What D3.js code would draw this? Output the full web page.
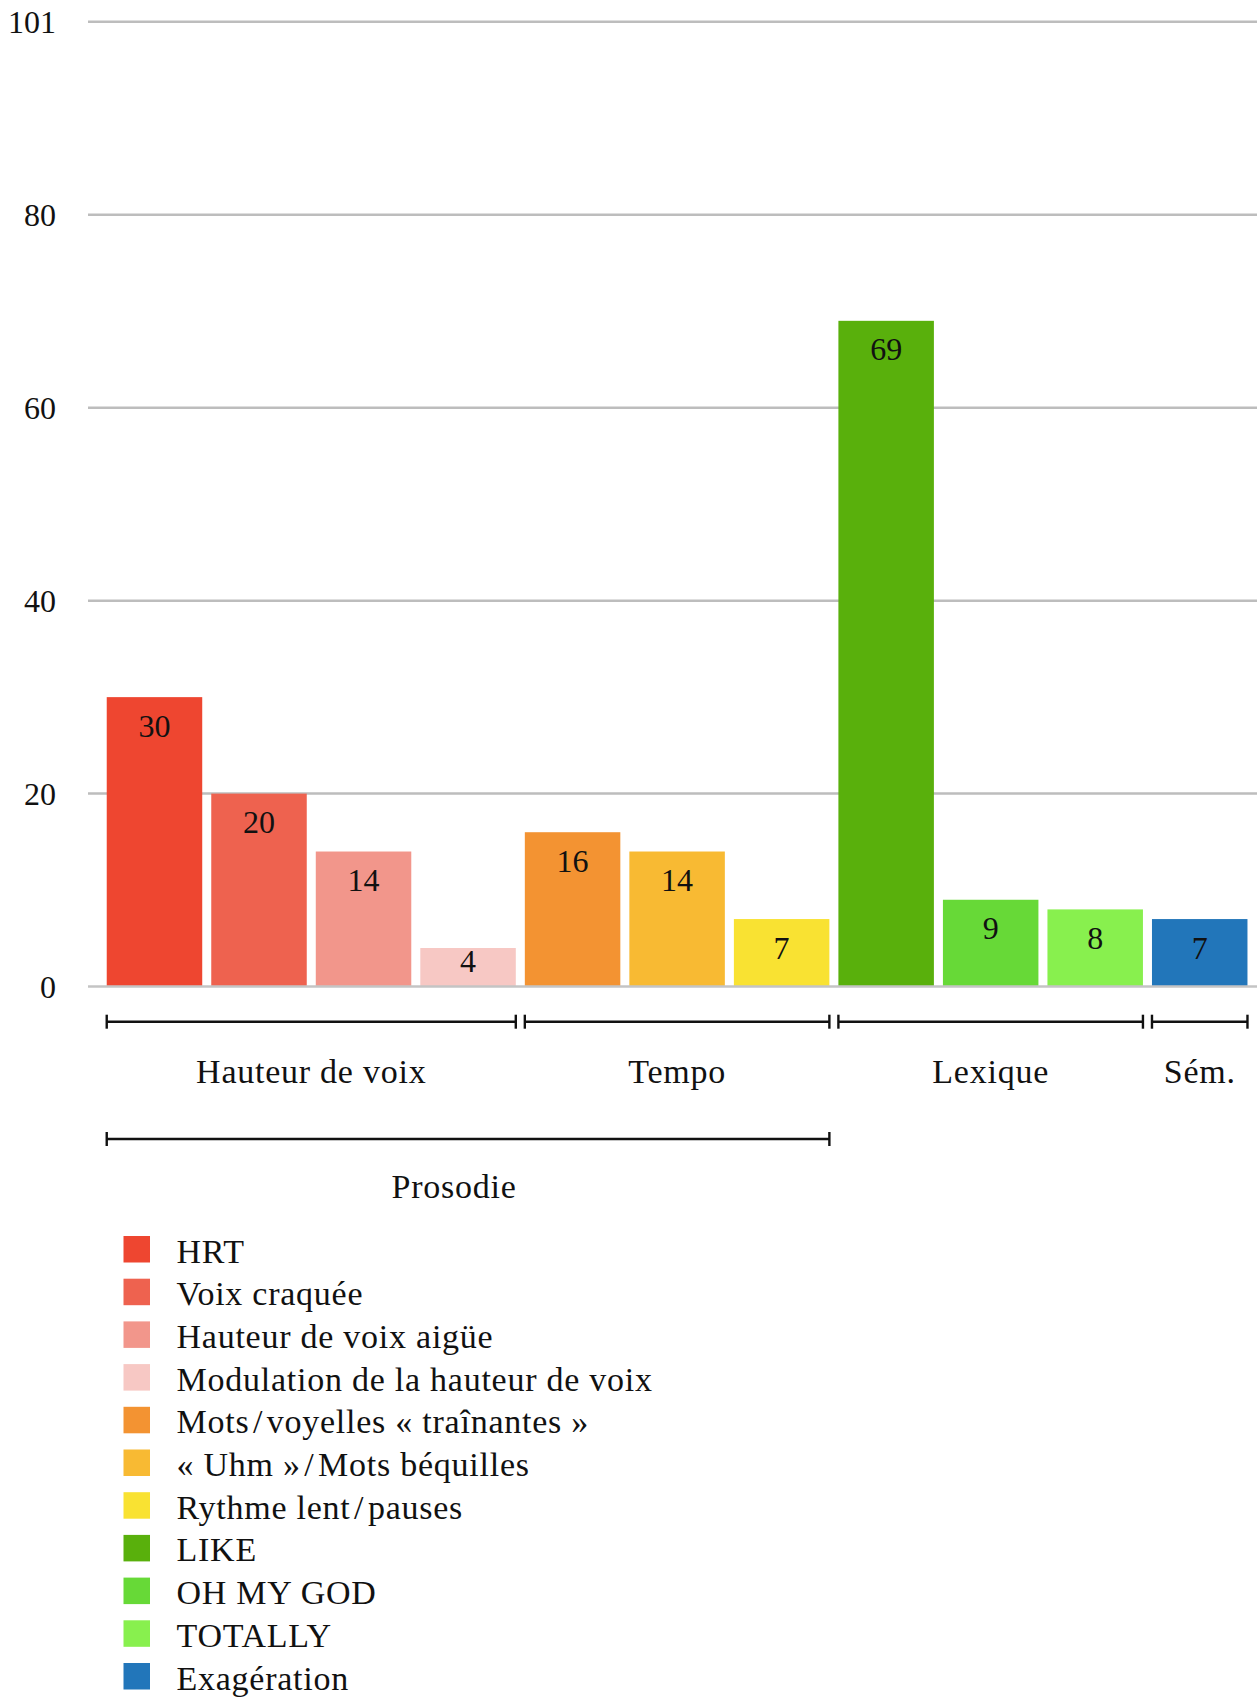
<!DOCTYPE html>
<html lang="fr">
<head>
<meta charset="utf-8">
<title>Répartition des traits</title>
<script src="https://cdn.jsdelivr.net/npm/d3@7/dist/d3.min.js"></script>
<style>
  html, body { margin: 0; padding: 0; background: #fff; }
  svg { display: block; }
  text { font-family: "Liberation Serif", "Times New Roman", serif; fill: #111; }
  .word { font-size: 34px; letter-spacing: 0.75px; }
  .num { font-size: 32px; }
</style>
</head>
<body>
<svg id="chart" width="1257" height="1699"></svg>
<script>
// Categories and counts
const categories = [
  "HRT",
  "Voix craquée",
  "Hauteur de voix aigüe",
  "Modulation de la hauteur de voix",
  "Mots\u200A/\u200Avoyelles «\u00A0traînantes\u00A0»",
  "«\u00A0Uhm\u00A0»\u200A/\u200AMots béquilles",
  "Rythme lent\u200A/\u200Apauses",
  "LIKE",
  "OH MY GOD",
  "TOTALLY",
  "Exagération"
];
const values = [30, 20, 14, 4, 16, 14, 7, 69, 9, 8, 7];
const colors = [
  "#EE4630", "#EE624F", "#F2968B", "#F7C8C4",
  "#F39332", "#F8BA33", "#F9E232",
  "#59B00C", "#67D937", "#88F04E",
  "#2276BA"
];

// Axis ticks
const yTicks = [0, 20, 40, 60, 80, 100];
const yTickLabels = ["0", "20", "40", "60", "80", "101"];

// Category groups (first and last category index)
const subGroups = [
  { label: "Hauteur de voix", from: 0, to: 3 },
  { label: "Tempo", from: 4, to: 6 },
  { label: "Lexique", from: 7, to: 9 },
  { label: "Sém.", from: 10, to: 10 }
];
const mainGroups = [
  { label: "Prosodie", from: 0, to: 6, dx: -14 }
];

const svg = d3.select("#chart");

const x = d3.scaleBand()
  .domain(d3.range(categories.length))
  .range([97.7, 1256.5])
  .padding(0.0864);

const y = d3.scaleLinear()
  .domain([0, 100])
  .range([986.6, 21.7]);

// Horizontal grid lines
svg.append("g")
  .selectAll("line")
  .data(yTicks.filter(d => d !== 0))
  .join("line")
  .attr("x1", 88).attr("x2", 1257)
  .attr("y1", d => y(d)).attr("y2", d => y(d))
  .attr("stroke", "#bdbdbd")
  .attr("stroke-width", 2.5);

// Tick labels
svg.append("g")
  .selectAll("text")
  .data(yTicks)
  .join("text")
  .attr("class", "num")
  .attr("x", 56)
  .attr("y", d => y(d) + 11)
  .attr("text-anchor", "end")
  .text((d, i) => yTickLabels[i]);

// Bars
svg.append("g")
  .selectAll("rect")
  .data(values)
  .join("rect")
  .attr("x", (d, i) => x(i))
  .attr("y", d => y(d))
  .attr("width", x.bandwidth())
  .attr("height", d => y(0) - y(d))
  .attr("fill", (d, i) => colors[i]);

// Baseline
svg.append("line")
  .attr("x1", 88).attr("x2", 1257)
  .attr("y1", y(0)).attr("y2", y(0))
  .attr("stroke", "#c4c4c4")
  .attr("stroke-width", 2.5);

// Value labels inside bars
svg.append("g")
  .selectAll("text")
  .data(values)
  .join("text")
  .attr("class", "num")
  .attr("x", (d, i) => x(i) + x.bandwidth() / 2)
  .attr("y", d => Math.min(y(d) + 39.5, y(0) - 15))
  .attr("text-anchor", "middle")
  .text(d => d);

// Group brackets
function drawBrackets(groups, lineY, labelY) {
  const g = svg.append("g");
  groups.forEach(gr => {
    const x0 = x(gr.from);
    const x1 = x(gr.to) + x.bandwidth();
    g.append("line")
      .attr("x1", x0).attr("x2", x1)
      .attr("y1", lineY).attr("y2", lineY)
      .attr("stroke", "#111").attr("stroke-width", 2.4);
    [x0, x1].forEach(px => {
      g.append("line")
        .attr("x1", px).attr("x2", px)
        .attr("y1", lineY - 7).attr("y2", lineY + 7)
        .attr("stroke", "#111").attr("stroke-width", 2.4);
    });
    g.append("text")
      .attr("class", "word")
      .attr("x", (x0 + x1) / 2 + (gr.dx || 0))
      .attr("y", labelY)
      .attr("text-anchor", "middle")
      .text(gr.label);
  });
}
drawBrackets(subGroups, 1021.7, 1083);
drawBrackets(mainGroups, 1139, 1198);

// Legend
const legend = svg.append("g")
  .selectAll("g")
  .data(categories)
  .join("g")
  .attr("transform", (d, i) => `translate(123.5, ${1236 + i * 42.7})`);

legend.append("rect")
  .attr("width", 26.5)
  .attr("height", 26.5)
  .attr("fill", (d, i) => colors[i]);

legend.append("text")
  .attr("class", "word")
  .attr("x", 53)
  .attr("y", 26.5)
  .text(d => d);
</script>
</body>
</html>
